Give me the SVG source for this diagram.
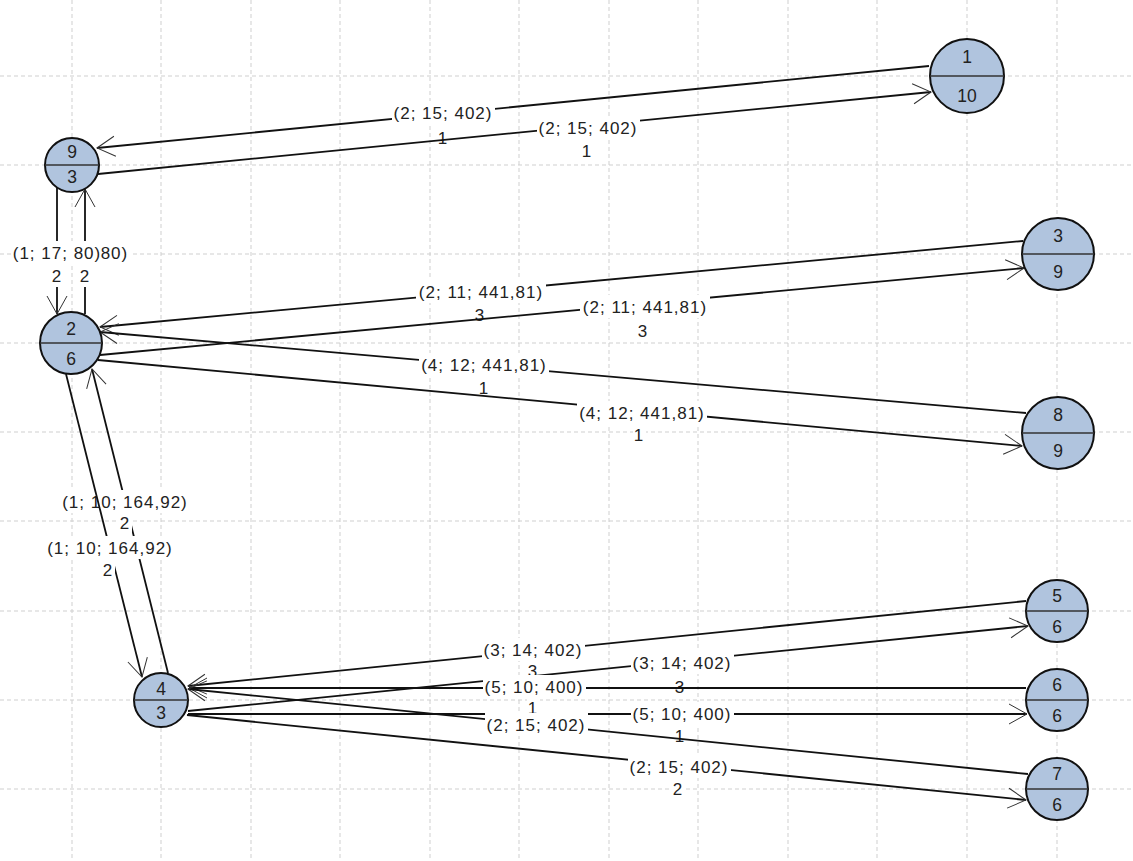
<svg xmlns="http://www.w3.org/2000/svg" width="1133" height="861" viewBox="0 0 1133 861">
  <style>
    .grid line { stroke: #cfcfcf; stroke-width: 1; stroke-dasharray: 4 3; }
    .edge { stroke: #111; stroke-width: 1.8; fill: none; marker-end: url(#arr); }
    .bg { fill: #fff; }
    .t { font-family: "Liberation Sans", Arial, sans-serif; font-size: 17px; letter-spacing: 1px; fill: #222; text-anchor: middle; }
    .node circle { fill: #b0c4de; stroke: #111; stroke-width: 2; }
    .node line { stroke: #333; stroke-width: 1.6; }
    .n { font-family: "Liberation Sans", Arial, sans-serif; font-size: 17.5px; fill: #222; text-anchor: middle; }
  </style>
  <defs>
    <marker id="arr" markerUnits="userSpaceOnUse" markerWidth="24" markerHeight="24" viewBox="0 0 24 24" refX="20" refY="12" orient="auto" overflow="visible">
      <path d="M2,2 L20,12 L2,22" fill="none" stroke="#333" stroke-width="1"/>
    </marker>
  </defs>

  <rect width="1133" height="861" fill="#fff"/>

  <!-- background grid -->
  <g class="grid">
    <line x1="72" y1="0" x2="72" y2="861"/>
    <line x1="161" y1="0" x2="161" y2="861"/>
    <line x1="251" y1="0" x2="251" y2="861"/>
    <line x1="340" y1="0" x2="340" y2="861"/>
    <line x1="430" y1="0" x2="430" y2="861"/>
    <line x1="519" y1="0" x2="519" y2="861"/>
    <line x1="609" y1="0" x2="609" y2="861"/>
    <line x1="698" y1="0" x2="698" y2="861"/>
    <line x1="788" y1="0" x2="788" y2="861"/>
    <line x1="877" y1="0" x2="877" y2="861"/>
    <line x1="967" y1="0" x2="967" y2="861"/>
    <line x1="1057" y1="0" x2="1057" y2="861"/>
    <line x1="0" y1="76" x2="1133" y2="76"/>
    <line x1="0" y1="165" x2="1133" y2="165"/>
    <line x1="0" y1="254" x2="1133" y2="254"/>
    <line x1="0" y1="343" x2="1133" y2="343"/>
    <line x1="0" y1="432" x2="1133" y2="432"/>
    <line x1="0" y1="521" x2="1133" y2="521"/>
    <line x1="0" y1="611" x2="1133" y2="611"/>
    <line x1="0" y1="700" x2="1133" y2="700"/>
    <line x1="0" y1="789" x2="1133" y2="789"/>
  </g>

  <!-- connectors, each followed by its label -->
  <g id="connectors">
    <!-- 1 -> 9 -->
    <path class="edge" d="M929,66 L97,148"/>
    <rect class="bg" x="392" y="101" width="103" height="23"/>
    <text class="t" x="443" y="119">(2; 15; 402)</text>
    <rect class="bg" x="437" y="126" width="13" height="23"/>
    <text class="t" x="443" y="144">1</text>
    <!-- 9 -> 1 -->
    <path class="edge" d="M98,174 L931,92"/>
    <rect class="bg" x="537" y="116" width="103" height="23"/>
    <text class="t" x="588" y="134">(2; 15; 402)</text>
    <rect class="bg" x="581" y="139" width="13" height="23"/>
    <text class="t" x="587" y="157">1</text>

    <!-- 2 -> 9 -->
    <path class="edge" d="M85,314 L85,189"/>
    <rect class="bg" x="39" y="241" width="91" height="23"/>
    <text class="t" x="84" y="259">(1; 17; 80)</text>
    <rect class="bg" x="79" y="264" width="13" height="23"/>
    <text class="t" x="85" y="282">2</text>
    <!-- 9 -> 2 -->
    <path class="edge" d="M57,188 L57,314"/>
    <rect class="bg" x="13" y="241" width="87" height="23"/>
    <text class="t" x="57" y="259">(1; 17; 80)</text>
    <rect class="bg" x="51" y="264" width="13" height="23"/>
    <text class="t" x="57" y="282">2</text>

    <!-- 3 -> 2 -->
    <path class="edge" d="M1023,241 L100,327"/>
    <rect class="bg" x="416" y="280" width="130" height="23"/>
    <text class="t" x="481" y="298">(2; 11; 441,81)</text>
    <rect class="bg" x="474" y="303" width="13" height="23"/>
    <text class="t" x="480" y="321">3</text>
    <!-- 2 -> 3 -->
    <path class="edge" d="M100,355 L1024,268"/>
    <rect class="bg" x="580" y="295" width="130" height="23"/>
    <text class="t" x="645" y="313">(2; 11; 441,81)</text>
    <rect class="bg" x="637" y="319" width="13" height="23"/>
    <text class="t" x="643" y="337">3</text>

    <!-- 8 -> 2 -->
    <path class="edge" d="M1026,413 L100,332"/>
    <rect class="bg" x="419" y="353" width="130" height="23"/>
    <text class="t" x="484" y="371">(4; 12; 441,81)</text>
    <rect class="bg" x="478" y="376" width="13" height="23"/>
    <text class="t" x="484" y="394">1</text>
    <!-- 2 -> 8 -->
    <path class="edge" d="M98,360 L1022,446"/>
    <rect class="bg" x="577" y="401" width="130" height="23"/>
    <text class="t" x="642" y="419">(4; 12; 441,81)</text>
    <rect class="bg" x="633" y="423" width="13" height="23"/>
    <text class="t" x="639" y="441">1</text>

    <!-- 4 -> 2 -->
    <path class="edge" d="M168,673 L92,369"/>
    <rect class="bg" x="60" y="490" width="130" height="23"/>
    <text class="t" x="125" y="508">(1; 10; 164,92)</text>
    <rect class="bg" x="119" y="511" width="13" height="23"/>
    <text class="t" x="125" y="529">2</text>
    <!-- 2 -> 4 -->
    <path class="edge" d="M66,374 L142,677"/>
    <rect class="bg" x="45" y="536" width="130" height="23"/>
    <text class="t" x="110" y="554">(1; 10; 164,92)</text>
    <rect class="bg" x="102" y="558" width="13" height="23"/>
    <text class="t" x="108" y="576">2</text>

    <!-- 5 -> 4 -->
    <path class="edge" d="M1026,601 L188,686"/>
    <rect class="bg" x="482" y="638" width="103" height="23"/>
    <text class="t" x="533" y="656">(3; 14; 402)</text>
    <rect class="bg" x="527" y="659" width="13" height="23"/>
    <text class="t" x="533" y="677">3</text>
    <!-- 4 -> 5 -->
    <path class="edge" d="M188,711 L1028,626"/>
    <rect class="bg" x="631" y="651" width="103" height="23"/>
    <text class="t" x="682" y="669">(3; 14; 402)</text>
    <rect class="bg" x="674" y="675" width="13" height="23"/>
    <text class="t" x="680" y="693">3</text>

    <!-- 6 -> 4 -->
    <path class="edge" d="M1026,688 L189,688"/>
    <rect class="bg" x="483" y="675" width="103" height="23"/>
    <text class="t" x="534" y="693">(5; 10; 400)</text>
    <rect class="bg" x="527" y="696" width="13" height="23"/>
    <text class="t" x="533" y="714">1</text>
    <!-- 4 -> 6 -->
    <path class="edge" d="M188,714 L1027,714"/>
    <rect class="bg" x="631" y="702" width="103" height="23"/>
    <text class="t" x="682" y="720">(5; 10; 400)</text>
    <rect class="bg" x="674" y="724" width="13" height="23"/>
    <text class="t" x="680" y="742">1</text>

    <!-- 7 -> 4 -->
    <path class="edge" d="M1028,774 L188,689"/>
    <rect class="bg" x="485" y="713" width="103" height="23"/>
    <text class="t" x="536" y="731">(2; 15; 402)</text>
    <!-- 4 -> 7 -->
    <path class="edge" d="M187,715 L1026,800"/>
    <rect class="bg" x="628" y="755" width="103" height="23"/>
    <text class="t" x="679" y="773">(2; 15; 402)</text>
    <rect class="bg" x="672" y="777" width="13" height="23"/>
    <text class="t" x="678" y="795">2</text>
  </g>

  <!-- nodes -->
  <g id="node-1" class="node">
    <circle cx="967" cy="76" r="37"/>
    <line x1="930" y1="76" x2="1004" y2="76"/>
    <text class="n" x="967" y="63">1</text>
    <text class="n" x="967" y="102">10</text>
  </g>
  <g id="node-9" class="node">
    <circle cx="72" cy="165" r="27"/>
    <line x1="45" y1="165" x2="99" y2="165"/>
    <text class="n" x="72" y="158">9</text>
    <text class="n" x="72" y="183">3</text>
  </g>
  <g id="node-2" class="node">
    <circle cx="71" cy="343" r="31"/>
    <line x1="40" y1="343" x2="102" y2="343"/>
    <text class="n" x="71" y="335">2</text>
    <text class="n" x="71" y="365">6</text>
  </g>
  <g id="node-3" class="node">
    <circle cx="1058" cy="254" r="36"/>
    <line x1="1022" y1="254" x2="1094" y2="254"/>
    <text class="n" x="1058" y="242">3</text>
    <text class="n" x="1058" y="278">9</text>
  </g>
  <g id="node-8" class="node">
    <circle cx="1058" cy="433" r="36"/>
    <line x1="1022" y1="433" x2="1094" y2="433"/>
    <text class="n" x="1058" y="421">8</text>
    <text class="n" x="1058" y="457">9</text>
  </g>
  <g id="node-4" class="node">
    <circle cx="161" cy="700" r="27"/>
    <line x1="134" y1="700" x2="188" y2="700"/>
    <text class="n" x="161" y="695">4</text>
    <text class="n" x="161" y="719">3</text>
  </g>
  <g id="node-5" class="node">
    <circle cx="1057" cy="611" r="31"/>
    <line x1="1026" y1="611" x2="1088" y2="611"/>
    <text class="n" x="1057" y="602">5</text>
    <text class="n" x="1057" y="633">6</text>
  </g>
  <g id="node-6" class="node">
    <circle cx="1057" cy="700" r="31"/>
    <line x1="1026" y1="700" x2="1088" y2="700"/>
    <text class="n" x="1057" y="691">6</text>
    <text class="n" x="1057" y="722">6</text>
  </g>
  <g id="node-7" class="node">
    <circle cx="1057" cy="789" r="31"/>
    <line x1="1026" y1="789" x2="1088" y2="789"/>
    <text class="n" x="1057" y="780">7</text>
    <text class="n" x="1057" y="811">6</text>
  </g>
</svg>
